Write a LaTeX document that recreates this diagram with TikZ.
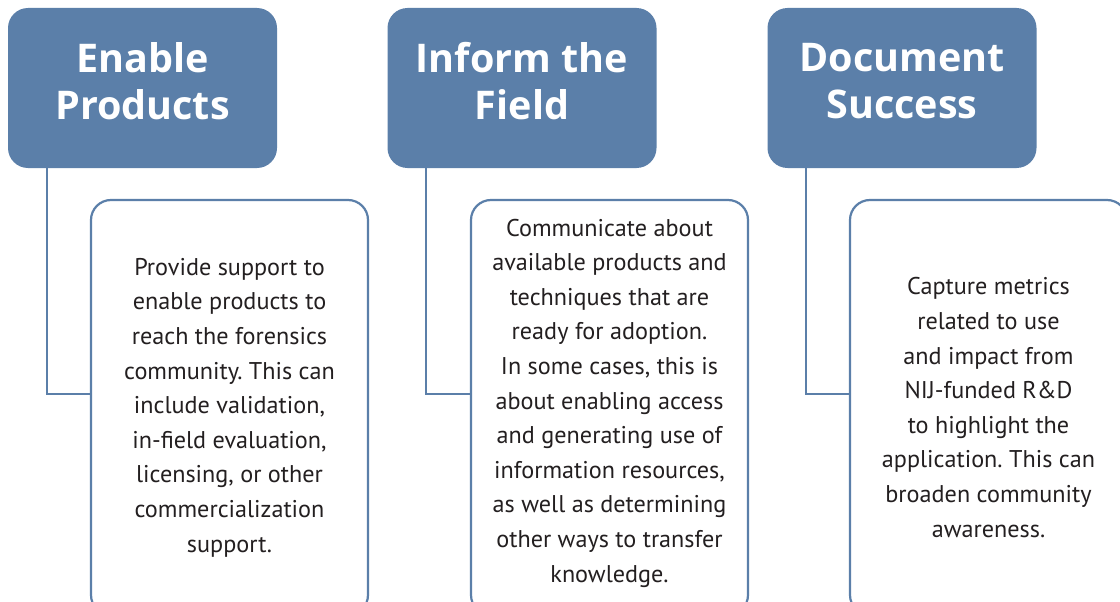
\documentclass[tikz,border=0pt]{standalone}
\usepackage{fontspec}
\setmainfont{PT Sans}
\newfontfamily\headfont{Open Sans}
\usepackage{tikz}
\usetikzlibrary{positioning}
\definecolor{hdblue}{HTML}{5B7FA9}
\definecolor{txtblack}{HTML}{231F20}
\frenchspacing

\begin{document}
\begin{tikzpicture}[x=1pt,y=-1pt,
	head/.style={rectangle,rounded corners=20pt,fill=hdblue,text=white,font={\headfont\fontsize{39.5}{47}\selectfont\bfseries},align=center,minimum width=269pt,minimum height=160pt,text depth=15pt},
	note/.style={rectangle,rounded corners=20pt,draw=hdblue,line width=2.2pt,fill=white,text=txtblack,font={\fontsize{24.2}{34.6}\selectfont},align=center,minimum width=277pt,minimum height=415pt},
	link/.style={draw=hdblue,line width=2.2pt}]
	\useasboundingbox (0,0) rectangle (1120,602);
	\clip (0,0) rectangle (1120,602);
	
	% headers
	\foreach \i/\x/\name in {1/142.5/{Enable\\Products},2/522/{Inform the\\Field},3/902/{Document\\Success}}{
		\node[head] (h\i) at (\x,88) {\name};
	}
	
	% boxes
	\node[note] (b1) at (229.5,407.5) {Provide support to\\enable products to\\reach the forensics\\community. This can\\include validation,\\in-field evaluation,\\licensing, or other\\commercialization\\support.};
	\node[note,text depth=14pt] (b2) at (609.5,407.5) {Communicate about\\available products and\\techniques that are\\ready for adoption.\\In some cases, this is\\about enabling access\\and generating use of\\information resources,\\as well as determining\\other ways to transfer\\knowledge.};
	\node[note] (b3) at (988.5,407.5) {Capture metrics\\related to use\\and impact from\\NIJ-funded R\&D\\to highlight the\\application. This can\\broaden community\\awareness.};
	
	\foreach \i in {1,2,3}{
		\draw[link] ([xshift=39pt]h\i.south west) |- ([yshift=13.5pt]b\i.west);}
\end{tikzpicture}
\end{document}
